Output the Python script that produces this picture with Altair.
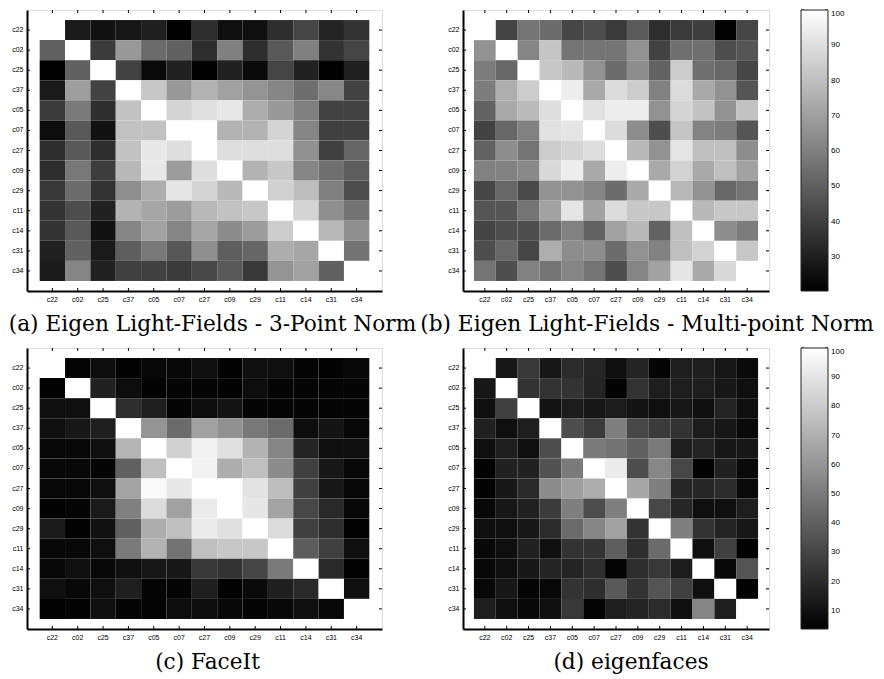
import altair as alt
import pandas as pd

names = ["c22", "c02", "c25", "c37", "c05", "c07", "c27", "c09", "c29", "c11", "c14", "c31", "c34"]

captions = [
    "(a) Eigen Light-Fields - 3-Point Norm",
    "(b) Eigen Light-Fields - Multi-point Norm",
    "(c) FaceIt",
    "(d) eigenfaces",
]

# (a) Eigen Light-Fields - 3-Point Norm (no colorbar; relative scale 0-100)
mat_a = [
    [100, 10, 7, 9, 12, 0, 18, 6, 6, 18, 27, 14, 20],
    [38, 100, 23, 60, 42, 38, 18, 50, 18, 35, 50, 20, 27],
    [0, 38, 100, 26, 4, 13, 0, 13, 4, 27, 13, 0, 13],
    [10, 62, 26, 100, 78, 60, 70, 63, 58, 52, 43, 53, 26],
    [23, 48, 18, 76, 100, 83, 88, 91, 68, 60, 50, 26, 26],
    [5, 35, 7, 76, 76, 100, 100, 70, 70, 83, 52, 25, 25],
    [18, 35, 18, 76, 91, 87, 100, 87, 87, 87, 57, 25, 40],
    [18, 47, 24, 72, 91, 61, 87, 100, 70, 78, 52, 44, 37],
    [22, 42, 20, 56, 68, 90, 83, 72, 100, 82, 74, 50, 30],
    [20, 30, 13, 70, 65, 61, 72, 76, 78, 100, 83, 56, 45],
    [20, 35, 7, 52, 63, 52, 65, 55, 61, 80, 100, 72, 56],
    [13, 38, 10, 37, 47, 34, 56, 37, 40, 68, 65, 100, 45],
    [10, 52, 13, 25, 25, 23, 28, 35, 22, 58, 63, 38, 100],
]

# (b) Eigen Light-Fields - Multi-point Norm (colorbar ~20-100)
mat_b = [
    [100, 41.5, 56.6, 54.2, 42.3, 44.7, 38.4, 48.7, 34.4, 38.4, 40, 21, 42.3],
    [66, 100, 62, 82, 56.6, 56.6, 56.6, 66, 40.8, 55, 55, 44.7, 47],
    [59, 52.6, 100, 82.6, 78, 66, 54, 64.5, 51, 84, 55, 52.6, 42.3],
    [59, 74.7, 84, 100, 94.5, 73, 89, 84, 60.5, 89, 73, 66, 47],
    [51, 73, 78.7, 89.7, 100, 90.5, 94.5, 94.5, 66, 86.6, 81, 66, 81],
    [40.8, 52.6, 60.5, 90.5, 92, 100, 89, 64.5, 44.7, 81.8, 61.3, 59, 47],
    [51, 64.5, 56.6, 84, 86.6, 89.7, 100, 78, 66, 92, 80, 80, 64.5],
    [60.5, 60.5, 63, 88, 94.5, 73, 94.5, 100, 73, 85.8, 73, 80, 70.8],
    [42.3, 52.6, 43, 66, 66, 62, 54, 73, 100, 78, 66, 52.6, 56.6],
    [47, 47, 56.6, 70.8, 92, 70.8, 89, 82.6, 82.6, 100, 78, 82.6, 82.6],
    [41.5, 44.7, 44.7, 54, 60.5, 51, 70.8, 78, 51, 80, 100, 64.5, 59],
    [44.7, 52.6, 42.3, 74.7, 64.5, 64.5, 54, 66, 60.5, 80, 85.8, 100, 82.6],
    [56.6, 44.7, 60.5, 56.6, 62, 56.6, 44.7, 62, 70.8, 92, 73, 88, 100],
]

# (c) FaceIt (no colorbar; relative scale 0-100)
mat_c = [
    [100, 2, 5, 1, 3, 3, 6, 1, 6, 6, 2, 1, 3],
    [1, 100, 13, 5, 1, 2, 2, 1, 5, 2, 2, 2, 2],
    [6, 6, 100, 18, 12, 2, 5, 8, 2, 2, 2, 2, 2],
    [6, 9, 12, 100, 58, 42, 63, 57, 47, 42, 5, 8, 3],
    [3, 3, 6, 71, 100, 82, 95, 88, 70, 52, 14, 6, 6],
    [3, 3, 2, 38, 75, 100, 95, 68, 75, 55, 25, 9, 3],
    [3, 3, 6, 64, 98, 91, 100, 100, 89, 74, 25, 9, 3],
    [1, 2, 10, 50, 86, 63, 92, 100, 90, 64, 28, 16, 3],
    [10, 1, 7, 38, 68, 75, 92, 88, 100, 86, 25, 18, 1],
    [3, 3, 6, 48, 70, 45, 75, 78, 78, 100, 36, 25, 6],
    [3, 6, 3, 6, 9, 9, 22, 20, 27, 48, 100, 16, 1],
    [6, 3, 6, 12, 2, 2, 12, 1, 4, 12, 16, 100, 6],
    [1, 1, 6, 2, 2, 5, 5, 3, 2, 3, 6, 3, 100],
]

# (d) eigenfaces (colorbar ~4-100)
mat_d = [
    [100, 12.5, 25.0, 12.5, 20.2, 18.2, 9.6, 17.3, 5.7, 15.3, 15.3, 12.5, 7.6],
    [12.5, 100, 23.0, 23.0, 23.0, 17.3, 4.8, 23.0, 15.3, 15.3, 15.3, 12.5, 9.6],
    [9.6, 27.9, 100, 11.5, 14.4, 12.5, 14.4, 11.5, 9.6, 12.5, 9.6, 17.3, 9.6],
    [16.3, 9.6, 15.3, 100, 32.7, 25.9, 51.9, 30.7, 25.9, 23.0, 14.4, 12.5, 7.6],
    [9.6, 15.3, 9.6, 32.7, 100, 50.0, 47.1, 40.4, 50.0, 15.3, 17.3, 12.5, 12.5],
    [4.8, 16.3, 16.3, 34.6, 50.0, 100, 92.3, 32.7, 54.8, 30.7, 4.8, 16.3, 7.6],
    [4.8, 12.5, 19.2, 56.7, 63.4, 69.2, 100, 66.3, 51.9, 18.2, 18.2, 20.2, 7.6],
    [6.7, 12.5, 16.3, 25.9, 51.9, 32.7, 51.9, 100, 30.7, 18.2, 9.6, 9.6, 15.3],
    [9.6, 9.6, 12.5, 20.2, 44.2, 53.8, 64.4, 23.0, 100, 51.9, 23.0, 17.3, 12.5],
    [6.7, 9.6, 16.3, 9.6, 23.0, 23.0, 39.4, 21.1, 44.2, 100, 9.6, 27.9, 4.8],
    [6.7, 9.6, 12.5, 17.3, 17.3, 21.1, 5.7, 21.1, 25.0, 14.4, 100, 6.7, 35.5],
    [6.7, 12.5, 5.7, 6.7, 23.0, 21.1, 37.5, 23.0, 35.5, 27.9, 9.6, 100, 4.8],
    [15.3, 9.6, 6.7, 9.6, 25.0, 5.7, 15.3, 17.3, 20.2, 9.6, 53.8, 15.3, 100],
]

domain_a = [0, 100]
domain_b = [20.3, 100]
domain_c = [0, 100]
domain_d = [3.8, 100]

cbar_ticks_b = [30, 40, 50, 60, 70, 80, 90, 100]
cbar_ticks_d = [10, 20, 30, 40, 50, 60, 70, 80, 90, 100]

H = 281
W_LEFT = 355
W_RIGHT = 306
CB_X = 338
CB_W = 27
TICK = 3

SERIF = "DejaVu Serif"
SANS = "Liberation Sans"


def to_long(mat):
    rows = []
    for i, r in enumerate(names):
        for j, c in enumerate(names):
            rows.append({"row": r, "col": c, "v": mat[i][j]})
    return pd.DataFrame(rows)


tick_df = pd.DataFrame({"row": names, "col": names})


def heat_panel(mat, domain, w, caption, dx, cb_values=None):
    xs = alt.Scale(domain=names, paddingInner=0, paddingOuter=0.5)
    ys = alt.Scale(domain=names, paddingInner=0, paddingOuter=0.5)
    xax = alt.Axis(title=None, labelAngle=0, ticks=False, domainWidth=2, domainColor="black",
                   labelFont=SANS, labelFontSize=7, labelColor="black", labelPadding=4, grid=False)
    yax = alt.Axis(title=None, ticks=False, domainWidth=2, domainColor="black",
                   labelFont=SANS, labelFontSize=7, labelColor="black", labelPadding=4, grid=False)
    X = lambda: alt.X("col:N", scale=xs, sort=names, axis=xax)
    Y = lambda: alt.Y("row:N", scale=ys, sort=names, axis=yax)
    if cb_values is None:
        legend = None
    else:
        legend = alt.Legend(orient="none", legendX=CB_X, legendY=0, direction="vertical",
                            type="gradient",
                            gradientLength=H, gradientThickness=CB_W,
                            gradientStrokeColor="#222", gradientStrokeWidth=1,
                            values=cb_values, title=None, labelFont=SANS, labelFontSize=8,
                            labelColor="black", labelOffset=3, labelOverlap=False)
    cscale = alt.Scale(domain=domain, range=["black", "white"], interpolate="rgb",
                       clamp=True, nice=False, zero=False)
    heat = alt.Chart(to_long(mat)).mark_rect().encode(
        x=X(), y=Y(),
        color=alt.Color("v:Q", scale=cscale, legend=legend),
    )
    base = alt.Chart(tick_df).mark_rule(color="black", strokeWidth=1)
    t_bot = base.encode(x=X(), y=alt.value(H), y2=alt.value(H - TICK))
    t_top = base.encode(x=X(), y=alt.value(0), y2=alt.value(TICK))
    t_left = base.encode(y=Y(), x=alt.value(0), x2=alt.value(TICK))
    t_right = base.encode(y=Y(), x=alt.value(w), x2=alt.value(w - TICK))
    inner = alt.layer(heat, t_bot, t_top, t_left, t_right)
    if cb_values is not None:
        cdf = pd.DataFrame({"t": cb_values})
        cys = alt.Scale(domain=domain, nice=False, zero=False)
        cb = alt.Chart(cdf).mark_rule(color="black", strokeWidth=1)
        cb_l = cb.encode(y=alt.Y("t:Q", scale=cys, axis=None),
                         x=alt.value(CB_X), x2=alt.value(CB_X + TICK))
        cb_r = cb.encode(y=alt.Y("t:Q", scale=cys, axis=None),
                         x=alt.value(CB_X + CB_W), x2=alt.value(CB_X + CB_W - TICK))
        inner = alt.layer(inner, cb_l, cb_r).resolve_scale(y="independent")
    return inner.properties(
        width=w, height=H,
        title=alt.TitleParams(caption, orient="bottom", anchor="middle", font=SERIF,
                              fontSize=21.7, fontWeight="normal", color="black",
                              offset=12, dx=dx),
    )


pa = heat_panel(mat_a, domain_a, W_LEFT, captions[0], 8)
pb = heat_panel(mat_b, domain_b, W_RIGHT, captions[1], 31, cbar_ticks_b)
pc = heat_panel(mat_c, domain_c, W_LEFT, captions[2], 3)
pd_ = heat_panel(mat_d, domain_d, W_RIGHT, captions[3], 15, cbar_ticks_d)

chart = alt.concat(
    pa, pb, pc, pd_, columns=2, spacing={"row": 57, "column": 81}, bounds="flush"
).resolve_scale(
    x="independent", y="independent", color="independent"
).resolve_legend(color="independent").properties(
    padding={"left": 0, "top": 1, "right": 0, "bottom": 0}
).configure_view(stroke="#222", strokeWidth=1).configure(background="white")

chart.save("out.html", embed_options={"renderer": "svg", "actions": False})
